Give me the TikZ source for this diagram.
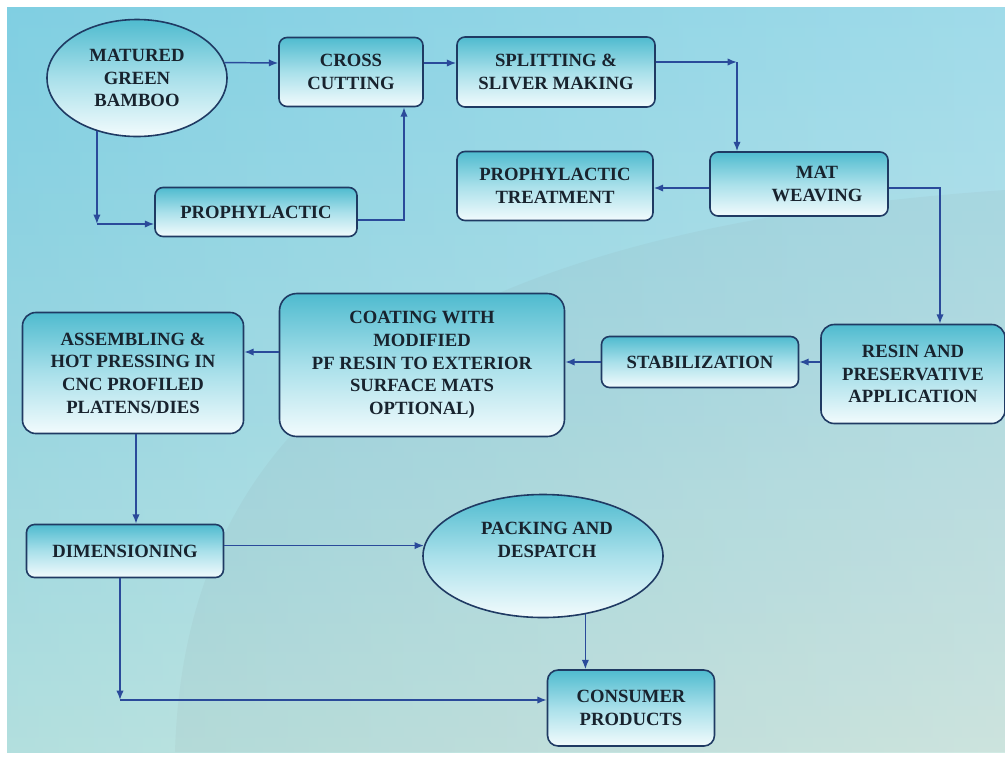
\documentclass[tikz,border=0pt]{standalone}
\usepackage{fontspec}
\setmainfont{Liberation Serif}
\usetikzlibrary{shapes.geometric,arrows.meta,calc}
\definecolor{bgtop}{HTML}{80CFE2}
\definecolor{bgmid}{HTML}{A0D8E1}
\definecolor{bgbot}{HTML}{C4E5DD}
\definecolor{boxtop}{HTML}{4FBBCF}
\definecolor{boxmid}{HTML}{A9E0EA}
\definecolor{boxbot}{HTML}{F2FBFD}
\definecolor{boxline}{HTML}{1F3A63}
\definecolor{arrc}{HTML}{2A4A9A}
\definecolor{txt}{HTML}{18232E}
\begin{document}
\begin{tikzpicture}[x=0.75pt,y=-0.75pt,
  lbl/.style={align=center, font=\bfseries\fontsize{14}{17}\selectfont, text=txt, inner sep=1pt},
  box/.style={lbl, draw=boxline, line width=1.2pt, rounded corners=6pt,
    top color=boxtop, bottom color=boxbot, middle color=boxmid},
  oval/.style={lbl, ellipse, draw=boxline, line width=1.2pt,
    top color=boxtop, bottom color=boxbot, middle color=boxmid, inner sep=0pt},
  arr/.style={draw=arrc, line width=1.1pt, -{Latex[length=7pt,width=5.5pt]}}]
\useasboundingbox (0,0) rectangle (1005,758);
\fill[white] (0,0) rectangle (1005,758);
% background
\shade[top color=bgtop, bottom color=bgbot, middle color=bgmid] (7,7) rectangle (1005,752);
\shade[left color=bgtop, right color=white, opacity=0.25] (7,7) rectangle (1005,752);
\fill[gray, opacity=0.07] (175,752) .. controls (185,420) and (420,230) .. (1005,190) -- (1005,752) -- cycle;

% nodes
\node[oval, minimum width=135pt, minimum height=87.75pt] (mgb) at (137,78) {MATURED\\GREEN\\BAMBOO};
\node[box, minimum width=108pt, minimum height=51.75pt] (cc) at (351,72) {CROSS\\CUTTING};
\node[box, minimum width=148.5pt, minimum height=52.5pt] (sp) at (556,72) {SPLITTING \&\\SLIVER MAKING};
\node[box, minimum width=151.5pt, minimum height=36.75pt] (pr) at (256,212) {PROPHYLACTIC};
\node[box, minimum width=147pt, minimum height=51.75pt] (pt) at (555,186) {PROPHYLACTIC\\TREATMENT};
\node[box, minimum width=133.5pt, minimum height=48pt] (mw) at (799,184) {\hspace*{27pt}MAT\\\hspace*{27pt}WEAVING};
\node[box, rounded corners=10pt, minimum width=138pt, minimum height=74.25pt] (res) at (913,374) {RESIN AND\\PRESERVATIVE\\APPLICATION};
\node[box, minimum width=147.75pt, minimum height=38.25pt] (stab) at (700,362) {STABILIZATION};
\node[box, rounded corners=13pt, minimum width=213.75pt, minimum height=107.25pt] (coat) at (422,365) {COATING WITH\\MODIFIED\\PF RESIN TO EXTERIOR\\SURFACE MATS\\OPTIONAL)};
\node[box, rounded corners=10pt, minimum width=165.75pt, minimum height=90.75pt] (asm) at (133,373) {ASSEMBLING \&\\HOT PRESSING IN\\CNC PROFILED\\PLATENS/DIES};
\node[box, minimum width=147.75pt, minimum height=39.75pt] (dim) at (125,551) {DIMENSIONING};
\node[oval, minimum width=180pt, minimum height=92.25pt] (pack) at (543,556) {};
\node[lbl] (packtxt) at (547,540) {PACKING AND\\DESPATCH};
\node[box, rounded corners=8pt, minimum width=125.25pt, minimum height=57pt] (cons) at (631,708) {CONSUMER\\PRODUCTS};

% helper coordinates
\coordinate (r1) at (0,63);
\coordinate (c1) at (737,62);
\coordinate (c2) at (97,224);
\coordinate (c3) at (404,220);
\coordinate (c4) at (940,188);
\coordinate (c5) at (0,352);
\coordinate (c6) at (120,700);
\coordinate (c7) at (136,0);

% connectors
\draw[arr] (mgb.10) -- (cc.west |- r1);
\draw[arr] (cc.east |- r1) -- (sp.west |- r1);
\draw[arr] (sp.east |- c1) -- (c1);
\draw[arr] (c1) -- (c1 |- mw.north);
\draw[arr] (mgb.233) -- (mgb.233 |- c2);
\draw[arr] (mgb.233 |- c2) -- (pr.west |- c2);
\draw[arr] (pr.east |- c3) -- (c3) -- (c3 |- cc.south);
\draw[arr] (mw.west |- c4) -- (pt.east |- c4);
\draw[arr] (mw.east |- c4) -- (c4) -- (c4 |- res.north);
\draw[arr] (res.west |- stab.east) -- (stab.east);
\draw[arr] (stab.west) -- (coat.east |- stab.west);
\draw[arr] (coat.west |- c5) -- (asm.east |- c5);
\draw[arr] (asm.south -| c7) -- (dim.north -| c7);
\draw[arr] (dim.east |- pack.175) -- (pack.175);
\draw[arr] (dim.south -| c6) -- (c6);
\draw[arr] (c6) -- (cons.west |- c6);
\draw[arr] (pack.306) -- (pack.306 |- cons.north);
\end{tikzpicture}
\end{document}
